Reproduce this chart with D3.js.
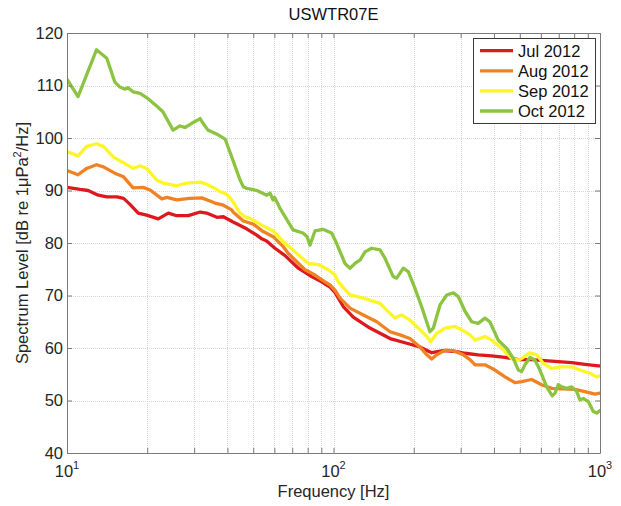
<!DOCTYPE html>
<html>
<head>
<meta charset="utf-8">
<script src="https://cdn.jsdelivr.net/npm/d3@7/dist/d3.min.js"></script>
<style>
  html, body { margin: 0; padding: 0; background: #fff; }
  svg { display: block; font-family: "Liberation Sans", Arial, Helvetica, sans-serif; }
</style>
</head>
<body>
<svg id="chart" width="621" height="506"></svg>
<script>
// Monthly ambient noise spectra, site USWTR07E
const chartTitle = "USWTR07E";
const seriesNames = ["Jul 2012", "Aug 2012", "Sep 2012", "Oct 2012"];
const seriesColors = ["#dc1a1e", "#f08224", "#fcf52a", "#8cc441"];

// Frequency [Hz] / spectrum level [dB re 1 µPa²/Hz] per month
const julFreq = [10, 11.2, 12, 13.1, 14.1, 15.4, 16.3, 17.2, 18.5, 19.9, 22, 24, 25.8, 28.5, 31.6, 33.4, 36.5, 38.6, 42, 47.2, 51.5, 53.8, 56.1, 60.3, 65.8, 73.8, 82.8, 90.3, 97, 101.3, 108.8, 118.6, 137, 163, 188.3, 211, 233.6, 258, 290, 311.5, 349, 392, 440, 494, 554, 622, 697, 783, 878, 985, 1000];
const julLevel = [90.6, 90.2, 90, 89.1, 88.8, 88.8, 88.5, 87.4, 85.7, 85.3, 84.6, 85.7, 85.2, 85.2, 85.9, 85.7, 84.9, 85, 84, 82.7, 81.5, 80.8, 80.4, 79, 77.6, 75.2, 73.6, 72.6, 71.6, 70.6, 67.9, 65.9, 63.8, 61.8, 60.9, 60.2, 59.1, 59.5, 59.3, 59, 58.7, 58.5, 58.2, 57.8, 57.8, 57.6, 57.4, 57.2, 56.9, 56.6, 56.6];

const augFreq = [10, 11, 11.85, 12.9, 13.7, 15.1, 16.3, 17.7, 19.3, 20.5, 22.7, 23.7, 25.8, 28.9, 32, 34.4, 35.9, 38.6, 41.5, 42, 45.9, 50, 54, 59.4, 64.8, 67.7, 78.2, 85.2, 92.9, 97, 101.3, 105.8, 115.3, 129.4, 145.3, 163, 177.6, 193.6, 211, 224, 233.6, 244, 262, 281.5, 307, 325, 340, 370, 403.6, 440, 480, 508, 554, 604, 659, 718, 805, 878, 957, 1000];
const augLevel = [93.8, 93, 94.2, 94.9, 94.5, 93.3, 92.6, 90.5, 90.6, 90.1, 88.4, 88.7, 88.2, 88.5, 88.6, 88, 87.6, 87.2, 86.3, 85.9, 84.2, 83.6, 82.3, 81.2, 79.3, 78, 74.9, 73.9, 72.6, 72, 71, 69.5, 67.6, 66.3, 65, 63.1, 62.5, 61.8, 60.2, 58.7, 57.9, 58.7, 59.6, 59.5, 58.7, 57.8, 56.8, 56.8, 55.8, 54.5, 53.4, 53.6, 54, 53, 52.3, 52.2, 52.1, 51.7, 51.2, 51.4];

const sepFreq = [10, 11, 11.85, 12.9, 13.7, 14.9, 16, 17.7, 18.8, 19.9, 21.7, 23, 25.8, 28.1, 31.6, 33.4, 35.9, 37.5, 39.7, 41.5, 44.6, 46.6, 48.6, 53.8, 59.4, 65, 70.6, 80.5, 87.7, 95.6, 101.3, 104.2, 115.3, 129.4, 149.5, 163, 170, 180, 193.6, 208, 224, 231.6, 244, 262, 286, 307, 325, 340, 370, 392, 428, 466.5, 494, 515, 546, 579, 612, 659, 718, 783, 841, 917, 972, 1000];
const sepLevel = [97.4, 96.6, 98.4, 98.9, 98.4, 96.4, 95.5, 94.2, 94.7, 94.2, 92, 91.4, 90.9, 91.4, 91.6, 91.2, 90.4, 89.8, 89.3, 88.2, 85.7, 85, 84.7, 83.4, 82.3, 80.2, 78.6, 76.1, 75.9, 74.9, 73.9, 72.6, 70.1, 69.5, 68.5, 66.6, 65.7, 66.3, 65.3, 63.8, 62.2, 61.2, 62.8, 63.8, 64.1, 63.3, 62.5, 61.5, 62.2, 61.5, 59.9, 58, 57.7, 58.2, 59.1, 58.7, 57.1, 56.1, 56.4, 56.4, 55.8, 55.2, 54.5, 54.7];

const octFreq = [10, 11, 12.9, 14.1, 15.1, 15.8, 16.5, 16.9, 17.7, 18.8, 20, 21.8, 22.9, 25, 26.5, 27.7, 29.4, 31.6, 32.4, 33.8, 34.9, 36.9, 39.2, 41.5, 44.6, 45.9, 47.3, 51.6, 56.2, 57.8, 59.3, 60.1, 63, 66.9, 70.5, 76.8, 79.6, 81.6, 85.2, 91.3, 98.4, 102.8, 110.4, 115.3, 120.4, 126, 131.3, 139, 149.5, 156, 167.5, 172.6, 182.8, 191, 202, 214, 230, 237, 251, 266, 281.5, 294, 311.5, 330, 349, 370, 386, 415, 447, 473, 494, 508, 523, 546, 570, 595, 631, 662, 678, 697, 718, 750, 783, 818, 841, 866, 904, 944, 972, 1000];
const octLevel = [111.2, 107.9, 116.8, 115.2, 110.7, 109.7, 109.3, 109.6, 108.8, 108.5, 107.6, 106, 105, 101.5, 102.3, 102, 102.8, 103.7, 102.8, 101.5, 101.2, 100.6, 99.8, 96.4, 92, 90.7, 90.4, 90, 89.1, 89.5, 88.2, 88.7, 86.6, 84.4, 82.5, 81.9, 81.2, 79.6, 82.3, 82.6, 81.9, 79.9, 76.1, 75.2, 76.1, 76.8, 78.3, 79, 78.7, 77.1, 73.6, 73.3, 75.2, 74.5, 71.4, 67.9, 63.1, 63.8, 68.2, 70.1, 70.5, 69.8, 67, 65, 64.7, 65.7, 65, 61.5, 59.9, 58, 55.8, 55.5, 56.8, 58.2, 57.7, 55.8, 52.6, 50.9, 51.4, 53, 52.6, 52.3, 52.6, 51.7, 50.1, 50.4, 49.8, 47.9, 47.6, 48.1];

const xMajorTicks = [10, 100, 1000];
const xMinorTicks = [20, 30, 40, 50, 60, 70, 80, 90, 200, 300, 400, 500, 600, 700, 800, 900];
const yTicks = [40, 50, 60, 70, 80, 90, 100, 110, 120];

const series = [
  { name: seriesNames[0], color: seriesColors[0], freq: julFreq, level: julLevel },
  { name: seriesNames[1], color: seriesColors[1], freq: augFreq, level: augLevel },
  { name: seriesNames[2], color: seriesColors[2], freq: sepFreq, level: sepLevel },
  { name: seriesNames[3], color: seriesColors[3], freq: octFreq, level: octLevel }
];

const svg = d3.select("#chart");
const plot = { left: 67, right: 600, top: 33, bottom: 453 };
const axisColor = "#7a7a7a";
const fontSize = 16.5;

const x = d3.scaleLog().domain([10, 1000]).range([plot.left, plot.right]);
const y = d3.scaleLinear().domain([40, 120]).range([plot.bottom, plot.top]);

// Grid
const grid = svg.append("g").attr("class", "grid")
  .attr("stroke", "#d6d6d6").attr("stroke-width", 1).attr("stroke-dasharray", "1,1");
grid.selectAll("line.gx").data(xMajorTicks.concat(xMinorTicks)).join("line")
  .attr("class", "gx")
  .attr("x1", d => Math.round(x(d)) + 0.5).attr("x2", d => Math.round(x(d)) + 0.5)
  .attr("y1", plot.top).attr("y2", plot.bottom);
grid.selectAll("line.gy").data(yTicks).join("line")
  .attr("class", "gy")
  .attr("y1", d => Math.round(y(d)) + 0.5).attr("y2", d => Math.round(y(d)) + 0.5)
  .attr("x1", plot.left).attr("x2", plot.right);

// Data lines
svg.append("clipPath").attr("id", "clip").append("rect")
  .attr("x", plot.left).attr("y", plot.top)
  .attr("width", plot.right - plot.left).attr("height", plot.bottom - plot.top);

const line = d3.line().x(d => x(d[0])).y(d => y(d[1])).curve(d3.curveLinear);
svg.append("g").attr("clip-path", "url(#clip)")
  .selectAll("path").data(series).join("path")
  .attr("fill", "none")
  .attr("stroke", d => d.color)
  .attr("stroke-width", 3.3)
  .attr("stroke-linejoin", "round")
  .attr("stroke-linecap", "round")
  .attr("d", d => line(d.freq.map((f, i) => [f, d.level[i]])));

// Axes: inward ticks on all four sides
const tickLen = 5;
function styleAxis(g) {
  g.select(".domain").attr("stroke", axisColor).attr("stroke-width", 1);
  g.selectAll(".tick line").attr("stroke", axisColor);
  g.selectAll(".tick text").remove();
}
const allX = xMajorTicks.concat(xMinorTicks);
svg.append("g").attr("transform", `translate(0,${plot.bottom})`)
  .call(d3.axisBottom(x).tickValues(allX).tickSizeInner(-tickLen).tickSizeOuter(0).tickFormat(""))
  .call(styleAxis);
svg.append("g").attr("transform", `translate(0,${plot.top})`)
  .call(d3.axisTop(x).tickValues(allX).tickSizeInner(-tickLen).tickSizeOuter(0).tickFormat(""))
  .call(styleAxis);
svg.append("g").attr("transform", `translate(${plot.left},0)`)
  .call(d3.axisLeft(y).tickValues(yTicks).tickSizeInner(-tickLen).tickSizeOuter(0).tickFormat(""))
  .call(styleAxis);
svg.append("g").attr("transform", `translate(${plot.right},0)`)
  .call(d3.axisRight(y).tickValues(yTicks).tickSizeInner(-tickLen).tickSizeOuter(0).tickFormat(""))
  .call(styleAxis);

// Tick labels
svg.append("g").selectAll("text").data(yTicks).join("text")
  .attr("x", plot.left - 4).attr("y", d => y(d))
  .attr("dy", "0.36em").attr("text-anchor", "end")
  .attr("font-size", fontSize).attr("fill", "#262626")
  .text(d => d);

const xLab = svg.append("g").selectAll("text").data(xMajorTicks).join("text")
  .attr("x", d => x(d)).attr("y", plot.bottom + 24)
  .attr("text-anchor", "middle")
  .attr("font-size", fontSize).attr("fill", "#262626");
xLab.append("tspan").text("10");
xLab.append("tspan").attr("dy", -8).attr("font-size", 11).text(d => Math.round(Math.log10(d)));

// Title and axis labels
svg.append("text").attr("x", (plot.left + plot.right) / 2).attr("y", 20)
  .attr("text-anchor", "middle").attr("font-size", fontSize).attr("fill", "#111")
  .text(chartTitle);

svg.append("text").attr("x", (plot.left + plot.right) / 2).attr("y", 497)
  .attr("text-anchor", "middle").attr("font-size", fontSize).attr("fill", "#262626")
  .text("Frequency [Hz]");

const yTitle = svg.append("text")
  .attr("transform", `translate(28,${(plot.top + plot.bottom) / 2}) rotate(-90)`)
  .attr("text-anchor", "middle").attr("font-size", fontSize).attr("fill", "#262626");
yTitle.append("tspan").text("Spectrum Level [dB re 1\u03bcPa");
yTitle.append("tspan").attr("dy", -7).attr("font-size", 11).text("2");
yTitle.append("tspan").attr("dy", 7).text("/Hz]");

// Legend
const legend = svg.append("g");
const lgX = 473, lgY = 38, lgW = 122, lgH = 85, rowH = 20.1;
legend.append("rect").attr("x", lgX + 0.5).attr("y", lgY + 0.5)
  .attr("width", lgW).attr("height", lgH)
  .attr("fill", "#fff").attr("stroke", "#3a3a3a").attr("stroke-width", 1);
const rows = legend.selectAll("g.row").data(series).join("g")
  .attr("class", "row")
  .attr("transform", (d, i) => `translate(${lgX},${lgY + 12.7 + i * rowH})`);
rows.append("line").attr("x1", 7).attr("x2", 40).attr("y1", 0).attr("y2", 0)
  .attr("stroke", d => d.color).attr("stroke-width", 3.3);
rows.append("text").attr("x", 45).attr("y", 0).attr("dy", "0.36em")
  .attr("font-size", fontSize).attr("fill", "#111")
  .text(d => d.name);
</script>
</body>
</html>
